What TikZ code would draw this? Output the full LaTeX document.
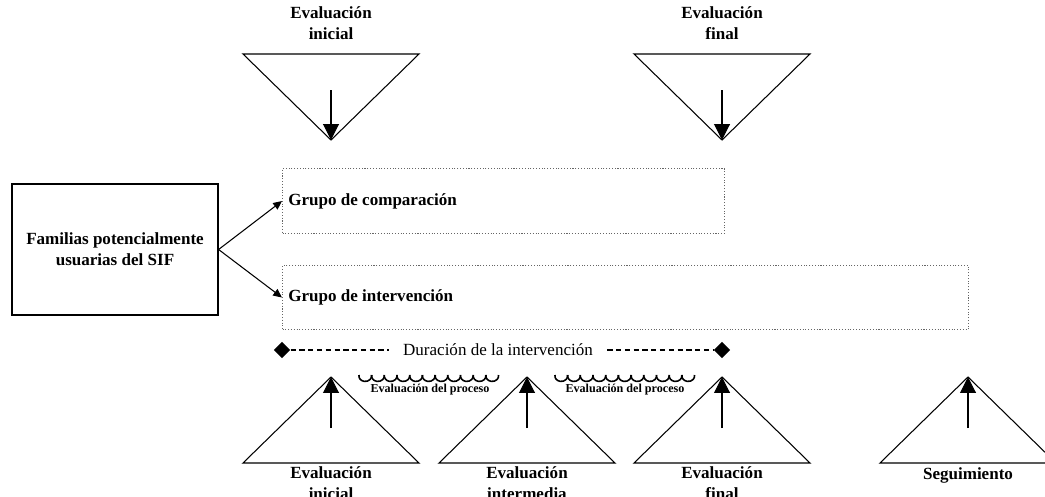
\documentclass[tikz,border=0pt]{standalone}
\usepackage{fontspec}
\setmainfont{Liberation Serif}
\usetikzlibrary{shapes.geometric, arrows.meta, positioning, calc}

\begin{document}
\begin{tikzpicture}[
    x=0.02cm, y=-0.02cm,
    tri/.style={draw=black, line width=0.6pt},
    evalarrow/.style={-{Triangle[length=9pt, width=9pt]}, line width=0.6pt},
    evallabel/.style={align=center, font=\fontsize{9.7}{12}\selectfont\bfseries, inner sep=0pt},
    source/.style={rectangle, draw, line width=0.7pt, minimum width=4.12cm, minimum height=2.62cm, align=center, font=\fontsize{9.7}{12}\selectfont\bfseries},
    groupbox/.style={rectangle, draw=black!60, densely dotted, line width=0.6pt, anchor=north west, inner sep=0pt},
    grouplabel/.style={anchor=west, font=\fontsize{9.7}{12}\selectfont\bfseries, inner sep=0pt},
    arrow/.style={-{Triangle[length=5pt, width=4.5pt]}, line width=0.6pt},
    mark diamond/.style={diamond, fill=black, minimum size=0.33cm, inner sep=0pt},
    durline/.style={dash pattern=on 3pt off 2pt, line width=0.6pt},
    proclabel/.style={font=\fontsize{6.9}{8}\selectfont\bfseries, inner sep=0pt}
]
\useasboundingbox (0,0) rectangle (1045,497);

% evaluaciones arriba
\coordinate (ti) at (331,140);
\coordinate (tf) at (722,140);
\draw[tri] (ti) -- ++(-88,-86) -- ++(176,0) -- cycle;
\draw[tri] (tf) -- ++(-88,-86) -- ++(176,0) -- cycle;
\coordinate (ti-s) at (331,90);
\coordinate (tf-s) at (722,90);
\draw[evalarrow] (ti-s) -- (ti);
\draw[evalarrow] (tf-s) -- (tf);
\node[evallabel] (lti) at (331,23) {Evaluación\\inicial};
\node[evallabel] (ltf) at (722,23) {Evaluación\\final};

% familias y grupos
\node[source] (fam) at (115,249.5) {Familias potencialmente\\usuarias del SIF};
\node[groupbox, minimum width=8.84cm, minimum height=1.3cm] (gc) at (282,168) {};
\node[groupbox, minimum width=13.72cm, minimum height=1.28cm] (gi) at (282,265) {};
\node[grouplabel] (lgc) at ($(gc.west)+(6,0)$) {Grupo de comparación};
\node[grouplabel] (lgi) at ($(gi.west)+(6,0)$) {Grupo de intervención};
\draw[arrow] (fam.east) -- (gc.west);
\draw[arrow] (fam.east) -- (gi.west);

% duracion
\node[mark diamond] (dl) at (282,350) {};
\node[mark diamond] (dr) at (722,350) {};
\node[font=\fontsize{9.7}{12}\selectfont, inner sep=8pt] (dur) at (498,350) {Duración de la intervención};
\draw[durline] (dl) -- (dur);
\draw[durline] (dur) -- (dr);

% evaluaciones abajo
\coordinate (bi) at (331,377);
\coordinate (bm) at (527,377);
\coordinate (bf) at (722,377);
\coordinate (bs) at (968,377);
\foreach \t in {bi, bm, bf, bs} {
  \draw[tri] (\t) -- ++(-88,86) -- ++(176,0) -- cycle;
  \draw[evalarrow] ($(\t)+(0,51)$) -- (\t);
}
\node[evallabel] (lbi) at (331,483) {Evaluación\\inicial};
\node[evallabel] (lbm) at (527,483) {Evaluación\\intermedia};
\node[evallabel] (lbf) at (722,483) {Evaluación\\final};
\node[evallabel] (lbs) at (968,475) {Seguimiento};

% evaluacion del proceso
\foreach \x in {359,555} {
  \foreach \i in {0,...,10}
    \draw[line width=0.9pt] (\x+\i*12.7,375) arc[start angle=170, end angle=370, x radius=0.127cm, y radius=0.11cm];
}
\node[proclabel] (lp1) at (430,390) {Evaluación del proceso};
\node[proclabel] (lp2) at (625,390) {Evaluación del proceso};
\end{tikzpicture}
\end{document}
